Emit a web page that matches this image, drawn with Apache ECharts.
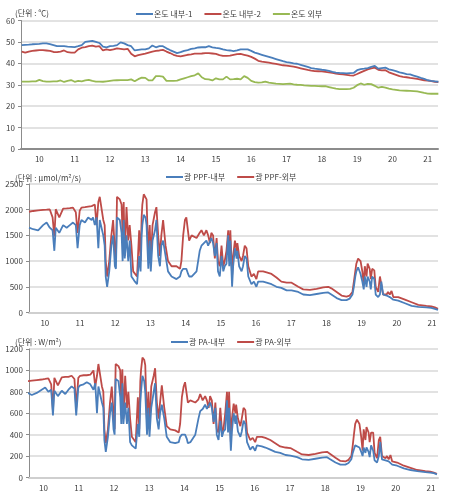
<!DOCTYPE html>
<html>
<head>
<meta charset="utf-8">
<script src="https://cdn.jsdelivr.net/npm/echarts@6/dist/echarts.min.js"></script>
<style>html,body{margin:0;padding:0;background:#fff}#c{width:449px;height:496px}</style>
</head>
<body>
<div id="c"></div>
<script>
// ---- Chart 1: temperature (day of month) ----
const dayLabels = [10,11,12,13,14,15,16,17,18,19,20,21];
const tempTimes = [];
for (let i = 0; i <= 118; i++) tempTimes.push(+(9.5 + i * 0.1).toFixed(2));
const tempIn1 = [
48.5,48.6,48.7,48.9,49.0,49.1,49.3,49.3,49.0,48.5,48.0,48.0,48.0,47.8,47.7,47.6,48.0,48.5,50.0,50.3,
50.5,50.0,49.5,47.8,47.5,48.0,48.2,48.5,49.8,49.3,48.5,48.0,46.0,46.3,46.5,46.5,47.0,48.3,47.5,48.0,
48.0,47.0,46.2,45.5,44.8,45.2,45.8,46.2,46.7,47.0,47.4,47.5,47.5,48.0,47.5,47.2,47.0,46.5,46.2,46.0,
45.7,46.0,46.5,46.5,46.5,45.8,45.0,44.5,44.0,43.5,43.0,42.5,42.0,41.5,41.0,40.6,40.3,40.0,39.8,39.3,
38.8,38.3,37.8,37.5,37.3,37.0,36.8,36.5,36.0,35.7,35.5,35.4,35.3,35.4,35.5,36.8,37.3,37.5,37.8,38.3,
38.8,37.5,37.8,38.0,37.2,36.8,36.4,35.8,35.4,35.0,34.8,34.3,33.8,33.2,32.7,32.1,31.8,31.6,31.4];
const tempIn2 = [
45.5,45.0,45.5,45.8,46.0,46.2,46.2,46.0,45.8,45.3,45.2,45.5,46.0,45.2,45.0,45.0,46.5,47.3,47.6,48.0,
48.3,47.8,48.0,46.0,46.5,46.2,46.5,47.0,46.8,46.5,46.8,44.5,43.3,43.8,44.2,44.5,45.0,45.5,45.8,46.0,
46.3,45.5,44.8,44.0,43.5,43.2,43.6,44.0,44.2,44.5,44.5,44.6,44.8,44.8,44.6,44.4,43.8,43.5,43.5,43.6,
44.0,44.3,44.4,44.0,43.6,43.0,42.2,41.2,40.8,40.6,40.3,40.0,39.7,39.4,39.1,38.9,38.7,38.5,38.1,37.7,
37.3,36.9,36.6,36.4,36.3,36.2,36.0,35.8,35.5,35.2,35.0,34.8,34.6,34.4,34.3,35.0,35.8,36.5,37.2,37.6,
38.0,37.0,36.7,36.8,35.8,35.2,34.6,34.0,33.7,33.5,33.2,33.0,32.7,32.4,32.1,31.9,31.7,31.4,31.2];
const tempOut = [
31.5,31.5,31.5,31.6,31.6,32.3,31.7,31.5,31.5,31.6,31.6,32.0,31.3,31.8,32.2,31.4,31.8,31.6,32.0,32.3,
31.8,31.5,31.5,31.4,31.6,31.8,32.0,32.1,32.2,32.2,32.2,32.5,31.6,32.6,33.3,33.2,32.0,32.0,34.0,34.0,
33.8,31.8,31.8,31.8,31.9,32.5,33.0,33.5,34.0,34.4,35.3,33.5,32.6,32.5,32.0,33.0,32.5,32.5,33.8,32.5,
32.6,32.8,32.5,34.0,33.2,31.8,31.2,31.0,31.1,31.5,31.0,30.8,30.5,30.4,30.3,30.4,30.5,30.2,30.0,29.9,
29.7,29.6,29.5,29.5,29.4,29.3,29.3,28.9,28.5,28.2,28.0,28.0,28.0,28.1,28.6,29.8,30.6,30.0,30.4,30.3,
29.5,28.6,29.0,28.7,28.2,27.8,27.6,27.4,27.3,27.2,27.1,27.0,26.9,26.6,26.2,25.9,25.8,25.8,25.8];

// ---- Charts 2 & 3: light ----
const lightTimes = [
9.55,9.67,9.81,9.95,10.05,10.14,10.22,10.27,10.31,10.41,10.52,10.62,10.71,10.80,10.88,10.93,10.99,11.04,11.14,11.23,
11.33,11.37,11.42,11.47,11.52,11.56,11.66,11.70,11.73,11.77,11.83,11.89,11.94,11.99,12.02,12.05,12.13,12.18,12.21,12.24,
12.27,12.32,12.37,12.41,12.46,12.51,12.56,12.62,12.68,12.72,12.75,12.77,12.81,12.86,12.89,12.94,12.98,13.01,13.06,13.13,
13.17,13.22,13.27,13.31,13.36,13.43,13.50,13.60,13.74,13.84,13.88,13.93,13.98,14.02,14.07,14.10,14.17,14.31,14.40,14.45,
14.52,14.59,14.64,14.69,14.73,14.78,14.83,14.88,14.92,14.97,15.02,15.07,15.11,15.16,15.21,15.24,15.27,15.32,15.35,15.40,
15.45,15.47,15.52,15.59,15.63,15.68,15.73,15.78,15.87,15.94,16.01,16.06,16.20,16.30,16.44,16.58,16.72,16.87,17.01,17.06,
17.20,17.34,17.53,17.72,17.91,18.05,18.14,18.29,18.43,18.57,18.66,18.74,18.78,18.82,18.85,18.90,18.97,19.02,19.06,19.09,
19.14,19.17,19.23,19.26,19.30,19.36,19.40,19.47,19.52,19.56,19.61,19.71,19.75,19.80,19.85,19.90,20.04,20.23,20.42,20.61,
20.84,20.98,21.08,21.17];
const ppfOut = [
1960,1975,1985,1995,2000,2005,1850,1480,2010,1850,2020,2025,2030,2040,1950,1550,1980,2040,2050,2060,
2070,2080,2100,1700,2150,2250,1800,1700,1000,700,1000,1500,1800,1200,1000,2250,2200,2100,1500,2150,
1100,2050,1400,1700,1300,800,800,700,1600,1000,1850,2100,2300,2300,2200,1100,1700,1000,1700,1950,
2050,1500,1100,1500,1800,1300,1000,900,900,850,1000,1500,1800,1850,1850,1400,1500,1450,1550,1600,
1500,1600,1500,1350,1550,1500,1050,1450,1000,900,1300,900,1000,1200,1600,1000,1600,700,1100,1400,
1200,1350,1100,1000,1100,1300,1250,900,700,750,650,800,800,780,750,680,600,580,580,550,
500,450,440,460,490,500,470,400,330,310,330,400,600,800,950,1050,1000,800,550,900,
700,950,850,650,850,820,500,400,700,720,350,350,400,350,420,300,300,250,200,150,
130,120,100,70];
const ppfIn = [
1650,1620,1600,1700,1750,1650,1600,1200,1650,1550,1700,1650,1700,1750,1700,1250,1700,1800,1750,1850,
1800,1850,1700,1850,1250,1800,1500,1300,700,500,800,1300,1500,900,850,1850,1800,1550,1000,1800,
1050,1500,1000,1400,700,650,600,550,1100,800,1500,1700,1900,1850,1700,850,1400,800,1400,1600,
1800,1100,900,1300,1400,1100,800,700,650,700,800,850,850,850,750,700,700,800,1200,1300,
1350,1400,1300,1300,1450,1350,1100,1350,800,700,1100,800,900,950,1500,900,1400,500,900,1250,
1050,1200,900,800,900,1100,1050,700,550,600,500,600,600,580,550,500,480,430,430,420,
400,350,340,360,380,390,350,280,240,240,270,350,500,700,800,880,750,600,450,700,
500,700,600,450,700,650,350,300,350,600,350,330,350,300,300,250,230,180,130,110,
100,90,70,50];
const paOut = [
900,905,910,915,920,925,870,620,930,860,935,940,940,950,920,650,930,950,955,955,
960,960,1000,850,950,1060,850,800,450,320,450,700,850,600,450,1060,1040,1000,650,1010,
550,950,650,800,550,380,380,330,750,450,900,1000,1120,1100,1050,500,800,450,850,950,
1020,700,550,700,860,650,480,450,440,420,500,750,850,890,900,700,720,700,730,780,
720,760,720,650,760,720,500,700,450,420,650,430,450,600,800,500,800,330,550,690,
600,680,550,480,550,650,630,420,350,370,330,380,380,370,350,320,290,280,275,265,
240,215,210,220,235,240,220,185,155,150,165,200,300,420,500,540,500,380,250,450,
350,470,420,330,420,420,230,180,350,380,200,180,200,170,210,150,140,110,90,70,
60,55,45,35];
const paIn = [
790,770,790,820,840,800,820,580,810,760,810,780,820,850,830,580,840,860,870,890,
870,880,820,880,600,850,700,650,350,240,380,600,700,450,400,920,900,750,500,880,
500,700,500,650,330,300,290,270,500,380,700,800,950,900,800,400,650,380,650,800,
880,550,450,600,680,550,380,330,320,330,380,400,410,400,360,320,330,400,550,620,
640,680,640,640,700,650,520,650,400,350,530,380,430,450,720,420,650,250,430,600,
500,580,430,380,430,530,500,330,260,290,250,300,290,280,260,240,230,210,205,200,
190,170,165,175,185,190,170,140,120,120,135,170,230,270,300,310,280,240,200,280,
230,280,240,190,300,250,160,140,200,330,170,160,170,150,150,120,110,85,70,60,
50,45,40,30];

const pair = (xs, ys) => xs.map((x, i) => [x, ys[i]]);

const FONT = '"Noto Sans CJK KR", "Noto Sans", sans-serif';
const BLUE = '#4a7ebb', RED = '#be4b48', GREEN = '#98b954';
const labelStyle = { fontSize: 8, color: '#404040', fontFamily: FONT };

function xAxisFor(gi, min, max, lineColor) {
  return {
    type: 'value', gridIndex: gi, min: min, max: max,
    axisLine: { show: true, onZero: false, lineStyle: { color: lineColor, width: 2 } },
    axisTick: { show: false },
    splitLine: { show: false },
    axisLabel: Object.assign({ customValues: dayLabels, margin: 6, formatter: v => String(Math.round(v)) }, labelStyle)
  };
}
function yAxisFor(gi, max, interval) {
  return {
    type: 'value', gridIndex: gi, min: 0, max: max, interval: interval,
    axisLine: { show: true, lineStyle: { color: '#8c8c8c', width: 1 } },
    axisTick: { show: true, length: 3, lineStyle: { color: '#8c8c8c' } },
    splitLine: { show: true, lineStyle: { color: '#d9d9d9', width: 1.5 } },
    axisLabel: Object.assign({ margin: 6, formatter: v => String(v) }, labelStyle)
  };
}
function line(name, gi, data, color) {
  return {
    name: name, type: 'line', xAxisIndex: gi, yAxisIndex: gi, data: data,
    symbol: 'none', lineStyle: { color: color, width: 1.8 }, itemStyle: { color: color },
    animation: false
  };
}
const legendBase = {
  icon: 'rect', itemWidth: 17, itemHeight: 2, itemGap: 12,
  textStyle: { fontSize: 8, color: '#404040', fontFamily: FONT, padding: [0, 0, 0, -4] }
};

const chart = echarts.init(document.getElementById('c'), null, { renderer: 'canvas' });
chart.setOption({
  animation: false,
  backgroundColor: '#fff',
  title: [
    { text: '(단위 : ℃)', left: 10, top: 4, textStyle: { fontSize: 8, fontWeight: 'normal', color: '#404040', fontFamily: FONT } },
    { text: '(단위 : μmol/m²/s)', left: 10, top: 169, textStyle: { fontSize: 8, fontWeight: 'normal', color: '#404040', fontFamily: FONT } },
    { text: '(단위 : W/m²)', left: 10, top: 333, textStyle: { fontSize: 8, fontWeight: 'normal', color: '#404040', fontFamily: FONT } }
  ],
  legend: [
    Object.assign({ left: 131, top: 5, data: ['온도 내부-1', '온도 내부-2', '온도 외부'] }, legendBase),
    Object.assign({ left: 161, top: 168, data: ['광 PPF-내부', '광 PPF-외부'] }, legendBase),
    Object.assign({ left: 166, top: 333, data: ['광 PA-내부', '광 PA-외부'] }, legendBase)
  ],
  grid: [
    { left: 21, right: 11, top: 20.5, height: 128.5 },
    { left: 29, right: 11, top: 184, height: 128.5 },
    { left: 29, right: 11, top: 349, height: 128.5 }
  ],
  xAxis: [
    xAxisFor(0, 9.48, 21.29, '#8c8c8c'),
    xAxisFor(1, 9.55, 21.17, '#cfcfcf'),
    xAxisFor(2, 9.59, 21.2, '#cfcfcf')
  ],
  yAxis: [
    yAxisFor(0, 60, 10),
    yAxisFor(1, 2500, 500),
    yAxisFor(2, 1200, 200)
  ],
  series: [
    line('온도 외부', 0, pair(tempTimes, tempOut), GREEN),
    line('온도 내부-2', 0, pair(tempTimes, tempIn2), RED),
    line('온도 내부-1', 0, pair(tempTimes, tempIn1), BLUE),
    line('광 PPF-외부', 1, pair(lightTimes, ppfOut), RED),
    line('광 PPF-내부', 1, pair(lightTimes, ppfIn), BLUE),
    line('광 PA-외부', 2, pair(lightTimes, paOut), RED),
    line('광 PA-내부', 2, pair(lightTimes, paIn), BLUE)
  ]
});
</script>
</body>
</html>
